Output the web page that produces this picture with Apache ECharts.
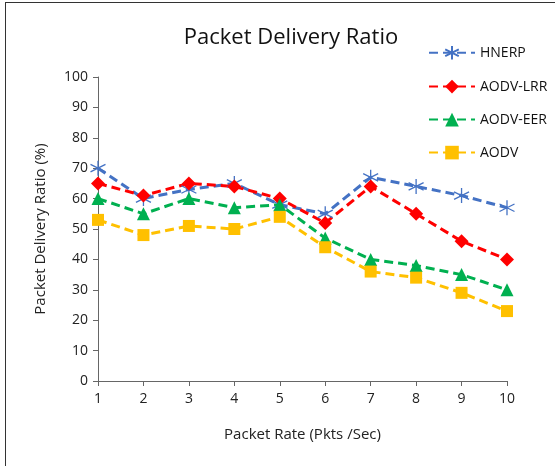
<!DOCTYPE html>
<html>
<head>
<meta charset="utf-8">
<script src="https://cdn.jsdelivr.net/npm/echarts@6/dist/echarts.min.js"></script>
<style>
  html, body { margin: 0; padding: 0; background: #fff; }
  #chart { width: 558px; height: 466px; }
</style>
</head>
<body>
<div id="chart"></div>
<script>
const packetRates = ['1', '2', '3', '4', '5', '6', '7', '8', '9', '10']
const hnerp = [70, 60, 63, 65, 58, 55, 67, 64, 61, 57]
const aodvLrr = [65, 61, 65, 64, 60, 52, 64, 55, 46, 40]
const aodvEer = [60, 55, 60, 57, 58, 47, 40, 38, 35, 30]
const aodv = [53, 48, 51, 50, 54, 44, 36, 34, 29, 23]

const font = 'Open Sans'
const starPath = 'path://M5,0 L5,10 M0.7,2.5 L9.3,7.5 M9.3,2.5 L0.7,7.5'

function makeSeries(name, data, color, symbol, size, extra) {
  return Object.assign({
    name: name,
    type: 'line',
    data: data,
    symbol: symbol,
    symbolSize: size,
    lineStyle: { color: color, width: 3, type: [9, 5] },
    itemStyle: { color: color },
    animation: false
  }, extra || {})
}

const chart = echarts.init(document.getElementById('chart'))

chart.setOption({
  animation: false,
  title: {
    text: 'Packet Delivery Ratio',
    left: 286,
    textAlign: 'center',
    top: 22,
    textStyle: { fontFamily: font, fontSize: 22, fontWeight: 'normal', color: '#111' }
  },
  legend: {
    orient: 'vertical',
    left: 423,
    top: 40,
    itemGap: 19,
    itemWidth: 46,
    itemHeight: 17,
    textStyle: { fontFamily: font, fontSize: 14, color: '#111' },
    data: ['HNERP', 'AODV-LRR', 'AODV-EER', 'AODV']
  },
  grid: { left: 98, right: 51, top: 77, bottom: 85 },
  xAxis: {
    type: 'category',
    data: packetRates,
    boundaryGap: false,
    name: 'Packet Rate (Pkts /Sec)',
    nameLocation: 'middle',
    nameGap: 46,
    nameTextStyle: { fontFamily: font, fontSize: 15, color: '#222' },
    axisLine: { lineStyle: { color: '#666', width: 1 } },
    axisTick: { show: true, alignWithLabel: true, length: 5, lineStyle: { color: '#666' } },
    axisLabel: { fontFamily: font, fontSize: 14, color: '#222', margin: 11 },
    splitLine: { show: false }
  },
  yAxis: {
    type: 'value',
    min: 0,
    max: 100,
    interval: 10,
    name: 'Packet Delivery Ratio (%)',
    nameLocation: 'middle',
    nameGap: 50,
    nameTextStyle: { fontFamily: font, fontSize: 15, color: '#222' },
    axisLine: { show: true, lineStyle: { color: '#666', width: 1 } },
    axisTick: { show: true, length: 5, lineStyle: { color: '#666' } },
    axisLabel: { fontFamily: font, fontSize: 14, color: '#222', margin: 10 },
    splitLine: { show: false }
  },
  graphic: [
    { type: 'line', shape: { x1: 5, y1: 2.5, x2: 555, y2: 2.5 }, style: { stroke: '#333', lineWidth: 1 } },
    { type: 'line', shape: { x1: 5.5, y1: 2, x2: 5.5, y2: 466 }, style: { stroke: '#333', lineWidth: 1 } }
  ],
  series: [
    makeSeries('HNERP', hnerp, '#4472C4', starPath, 15, {
      itemStyle: { color: '#4472C4', borderColor: '#4472C4', borderWidth: 1.3 }
    }),
    makeSeries('AODV-LRR', aodvLrr, '#FF0000', 'diamond', 14),
    makeSeries('AODV-EER', aodvEer, '#00B050', 'triangle', 13),
    makeSeries('AODV', aodv, '#FFC000', 'rect', 12)
  ]
})
</script>
</body>
</html>
